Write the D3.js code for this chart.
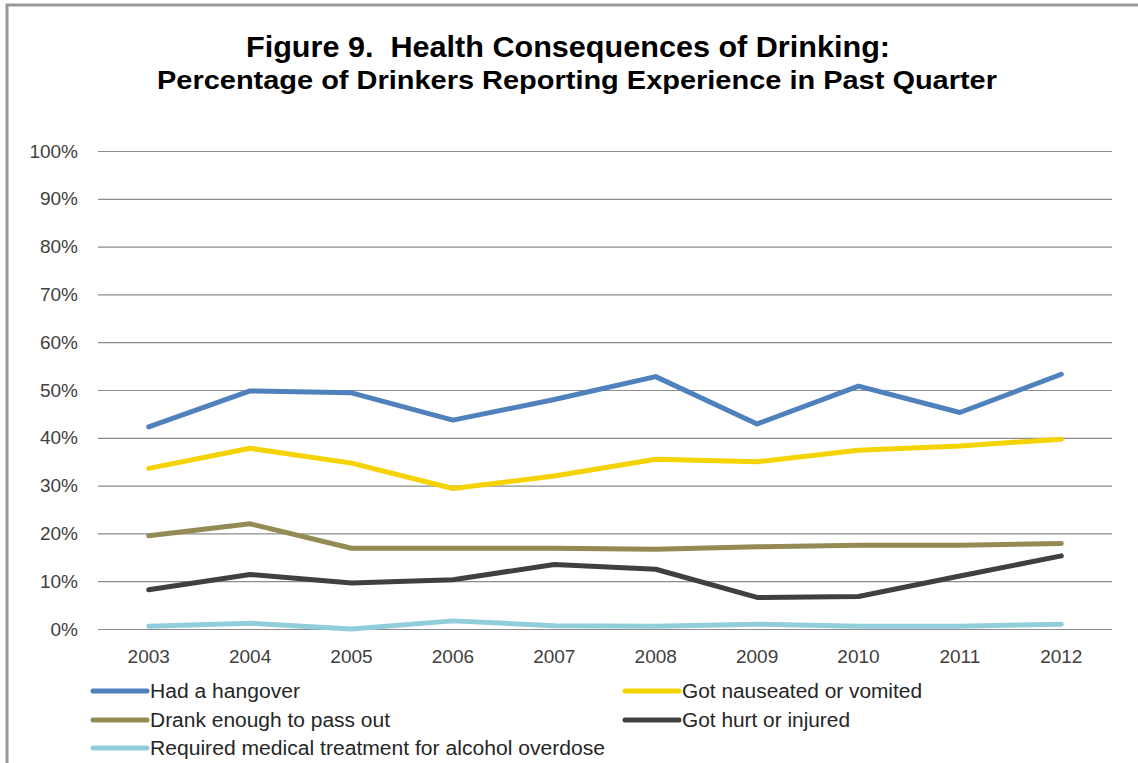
<!DOCTYPE html>
<html>
<head>
<meta charset="utf-8">
<script src="https://cdn.jsdelivr.net/npm/d3@7"></script>
<style>
  html, body { margin: 0; padding: 0; background: #fff; }
  svg { display: block; }
  text { font-family: "Liberation Sans", Arial, sans-serif; white-space: pre; }
</style>
</head>
<body>
<svg id="chart" width="1138" height="763"></svg>
<script>
const years = ["2003","2004","2005","2006","2007","2008","2009","2010","2011","2012"];
const yTicks = [0,10,20,30,40,50,60,70,80,90,100];
const seriesNames = [
  "Had a hangover",
  "Got nauseated or vomited",
  "Drank enough to pass out",
  "Got hurt or injured",
  "Required medical treatment for alcohol overdose"
];
const hangover   = [42.3, 49.8, 49.4, 43.7, 48.0, 52.8, 42.9, 50.8, 45.3, 53.3];
const nauseated  = [33.6, 37.8, 34.7, 29.4, 32.0, 35.5, 35.0, 37.4, 38.3, 39.7];
const passedOut  = [19.5, 22.0, 16.9, 16.9, 16.9, 16.7, 17.2, 17.5, 17.5, 17.9];
const hurt       = [8.2, 11.4, 9.6, 10.3, 13.5, 12.5, 6.6, 6.8, 11.1, 15.3];
const medical    = [0.6, 1.2, 0.0, 1.7, 0.7, 0.6, 1.0, 0.6, 0.6, 1.0];
const colors = ["#4F81BD", "#F5D300", "#948A54", "#404040", "#92CDDC"];
const allSeries = [hangover, nauseated, passedOut, hurt, medical];

const svg = d3.select("#chart");

// frame
svg.append("rect").attr("x", 7).attr("y", 5).attr("width", 1200).attr("height", 800)
  .attr("fill", "#fff").attr("stroke", "#989898").attr("stroke-width", 3);

// title
svg.append("text").attr("x", 568).attr("y", 57).attr("text-anchor", "middle")
  .attr("font-size", 29).attr("font-weight", "bold").attr("fill", "#000")
  .attr("xml:space", "preserve")
  .attr("textLength", 644).attr("lengthAdjust", "spacingAndGlyphs")
  .text("Figure 9.  Health Consequences of Drinking:");
svg.append("text").attr("x", 577).attr("y", 89).attr("text-anchor", "middle")
  .attr("font-size", 25).attr("font-weight", "bold").attr("fill", "#000")
  .attr("textLength", 840).attr("lengthAdjust", "spacingAndGlyphs")
  .text("Percentage of Drinkers Reporting Experience in Past Quarter");

const x = d3.scaleBand().domain(years).range([98, 1112]);
const y = d3.scaleLinear().domain([0, 100]).range([629, 151]);

// gridlines
const grid = svg.append("g").attr("transform", "translate(98,0)")
  .call(d3.axisLeft(y).tickValues(yTicks).tickSize(-(1112 - 98)).tickFormat(""));
grid.select(".domain").remove();
grid.selectAll(".tick line").attr("stroke", "#8c8c8c").attr("stroke-width", 1.2);

// y labels
const yAxis = svg.append("g").attr("transform", "translate(78,0)")
  .call(d3.axisLeft(y).tickValues(yTicks).tickSize(0).tickPadding(0).tickFormat(d => d + "%"));
yAxis.select(".domain").remove();
yAxis.selectAll(".tick text").attr("font-size", 19).attr("fill", "#404040")
  .attr("font-family", "Liberation Sans, Arial, sans-serif");

// x labels
const xAxis = svg.append("g").attr("transform", "translate(0,629)")
  .call(d3.axisBottom(x).tickSize(0).tickPadding(21));
xAxis.select(".domain").remove();
xAxis.selectAll(".tick text").attr("font-size", 19).attr("fill", "#404040")
  .attr("font-family", "Liberation Sans, Arial, sans-serif");

// lines
const line = d3.line()
  .x((d, i) => x(years[i]) + x.bandwidth() / 2)
  .y(d => y(d));
allSeries.forEach((s, k) => {
  svg.append("path").datum(s).attr("d", line)
    .attr("fill", "none").attr("stroke", colors[k]).attr("stroke-width", 5)
    .attr("stroke-linejoin", "round").attr("stroke-linecap", "round");
});

// legend
const legendPos = [
  {lx: 93, ly: 691, w: 150}, {lx: 625, ly: 691, w: 240},
  {lx: 93, ly: 720, w: 240}, {lx: 625, ly: 720, w: 168},
  {lx: 93, ly: 748, w: 455}
];
seriesNames.forEach((name, k) => {
  const p = legendPos[k];
  const g = svg.append("g");
  g.append("line").attr("x1", p.lx).attr("x2", p.lx + 54).attr("y1", p.ly).attr("y2", p.ly)
    .attr("stroke", colors[k]).attr("stroke-width", 5).attr("stroke-linecap", "round");
  g.append("text").attr("x", p.lx + 57).attr("y", p.ly).attr("dy", "0.36em")
    .attr("font-size", 20).attr("fill", "#262626")
    .attr("textLength", p.w).attr("lengthAdjust", "spacingAndGlyphs").text(name);
});
</script>
</body>
</html>
